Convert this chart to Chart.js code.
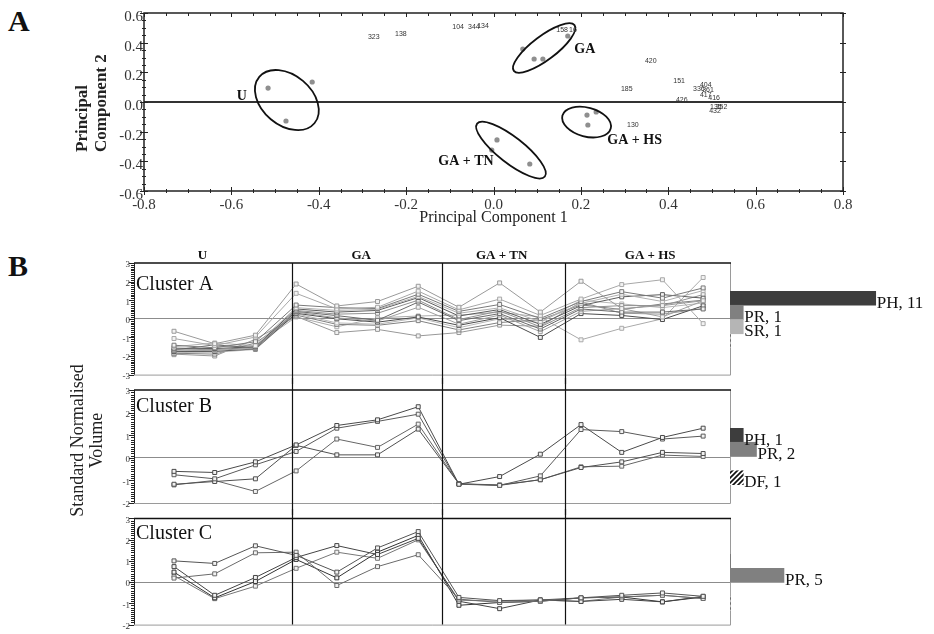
<!DOCTYPE html>
<html>
<head>
<meta charset="utf-8">
<script src="https://cdn.jsdelivr.net/npm/chart.js@4.4.1/dist/chart.umd.min.js"></script>
<style>
  body { margin: 0; background: #fff; }
  #wrap { position: relative; width: 934px; height: 634px; overflow: hidden; }
  #wrap canvas { position: absolute; }
  .tag { position: absolute; font: bold 30px 'Liberation Serif', 'Times New Roman', serif; line-height: 1; color: #111; }
</style>
</head>
<body>
<div id="wrap">
  <div class="tag" style="left:8px;top:6px">A</div>
  <div class="tag" style="left:8px;top:251px">B</div>
  <canvas id="pca" width="934" height="228" style="left:0;top:0"></canvas>
  <canvas id="clA" width="680" height="146" style="left:60px;top:238px"></canvas>
  <canvas id="clB" width="680" height="194" style="left:60px;top:350px"></canvas>
  <canvas id="clC" width="680" height="125" style="left:60px;top:509px"></canvas>
  <canvas id="barsA" width="204" height="75" style="left:730px;top:291px"></canvas>
  <canvas id="barsB" width="204" height="75" style="left:730px;top:428px"></canvas>
  <canvas id="barsC" width="204" height="75" style="left:730px;top:554px"></canvas>
</div>
<script>
// ---- PCA scores (PC1 / PC2) per treatment ----
const uPC1  = [-0.516, -0.415, -0.475];
const uPC2  = [0.094, 0.135, -0.128];
const gaPC1 = [0.067, 0.093, 0.113, 0.170];
const gaPC2 = [0.357, 0.290, 0.290, 0.445];
const tnPC1 = [0.008, -0.004, 0.083];
const tnPC2 = [-0.256, -0.324, -0.418];
const hsPC1 = [0.214, 0.235, 0.216];
const hsPC2 = [-0.088, -0.067, -0.155];

// spot loadings, labelled by spot number
const spotIds = ['323', '138', '104', '344', '134', '158', '16', '420', '185', '151',
                 '404', '336', '361', '417', '426', '416', '135', '352', '432', '130'];
const spotPC1 = [-0.274, -0.212, -0.081, -0.045, -0.024, 0.157, 0.182, 0.360, 0.305, 0.425,
                 0.486, 0.470, 0.491, 0.486, 0.431, 0.505, 0.509, 0.522, 0.507, 0.319];
const spotPC2 = [0.438, 0.459, 0.506, 0.506, 0.512, 0.486, 0.486, 0.276, 0.088, 0.142,
                 0.115, 0.088, 0.081, 0.047, 0.013, 0.027, -0.034, -0.034, -0.061, -0.155];

const groupNames = ['U', 'GA', 'GA + TN', 'GA + HS'];
const groupPC1 = [-0.576, 0.209, -0.063, 0.323];
const groupPC2 = [0.040, 0.357, -0.398, -0.260];

// ---- standard normalised volumes, 14 gels: 3 U, 4 GA, 3 GA+TN, 4 GA+HS ----
const treatments = ['U', 'GA', 'GA + TN', 'GA + HS'];
const treatmentPos = [0.7, 4.6, 8.05, 11.7];
const dividers = [2.9, 6.58, 9.6];

const clusterA = [
  [-0.67, -1.34, -0.88, 1.87, 0.69, 0.93, 1.75, 0.62, 1.93, 0.36, 2.02, 0.55, 0.71, 0.97],
  [-1.06, -1.44, -0.98, 1.37, 0.53, 0.62, 1.49, 0.48, 1.06, 0.18, 1.06, 1.84, 2.10, -0.26],
  [-1.42, -1.56, -1.23, 0.74, 0.60, 0.55, 1.32, 0.40, 0.77, 0.02, 0.93, 1.46, 1.11, 1.66],
  [-1.50, -1.30, -1.44, 0.60, 0.45, 0.51, 1.20, 0.30, 0.59, -0.15, 0.83, 1.32, 0.93, 1.52],
  [-1.58, -1.60, -1.50, 0.53, 0.36, 0.45, 1.14, 0.15, 0.50, -0.30, 0.71, 1.18, 1.30, 1.11],
  [-1.63, -1.65, -1.55, 0.45, 0.25, 0.30, 1.00, -0.04, 0.42, -0.43, 0.60, 0.71, 0.71, 1.30],
  [-1.68, -1.40, -1.57, 0.40, 0.17, -0.08, 0.90, -0.10, 0.28, -0.55, 0.53, 0.36, 0.36, 0.53],
  [-1.72, -1.70, -1.60, 0.36, 0.05, -0.12, 0.62, -0.29, 0.20, -0.69, 0.40, 0.55, 0.10, 0.97],
  [-1.76, -1.75, -1.62, 0.30, 0.00, -0.18, 0.10, -0.35, 0.06, -1.00, 0.28, 0.18, -0.04, 0.70],
  [-1.81, -1.80, -1.65, 0.27, -0.22, -0.29, 0.05, -0.48, 0.00, -0.20, 1.00, 0.80, 0.60, 0.85],
  [-1.85, -1.90, -1.30, 0.20, -0.30, -0.35, -0.10, -0.60, -0.20, -0.05, 0.75, 0.50, 0.80, 1.00],
  [-1.90, -2.00, -1.10, 0.13, -0.74, -0.57, -0.92, -0.74, -0.34, -0.40, 0.90, 0.30, 0.25, 0.55],
  [-1.93, -1.50, -1.44, 0.10, -0.43, 0.05, 0.15, 0.20, 0.35, 0.10, -1.13, -0.51, 0.00, 2.22]
];
const clusterB = [
  [-0.60, -0.65, -0.18, 0.57, 1.43, 1.68, 2.26, -1.17, -0.83, 0.16, 1.47, 0.24, 0.90, 1.31],
  [-0.75, -0.93, -0.31, 0.28, 1.31, 1.61, 1.93, -1.17, -1.22, -0.80, 1.25, 1.16, 0.83, 0.96],
  [-1.17, -1.05, -0.93, 0.55, 0.13, 0.13, 1.27, -1.15, -1.22, -0.97, -0.43, -0.18, 0.24, 0.19],
  [-1.20, -1.00, -1.49, -0.58, 0.83, 0.46, 1.49, -1.15, -1.20, -0.97, -0.40, -0.37, 0.12, 0.06]
];
const clusterC = [
  [1.00, 0.88, 1.71, 1.26, 0.47, 1.61, 2.38, -0.72, -0.87, -0.84, -0.74, -0.62, -0.51, -0.67],
  [0.19, 0.39, 1.38, 1.41, -0.16, 0.73, 1.29, -0.80, -0.96, -0.90, -0.74, -0.70, -0.62, -0.77],
  [0.73, -0.62, 0.22, 1.16, 1.72, 1.30, 2.06, -0.90, -1.25, -0.84, -0.91, -0.81, -0.93, -0.67],
  [0.47, -0.74, 0.03, 1.07, 0.20, 1.41, 2.20, -1.09, -0.96, -0.90, -0.74, -0.70, -0.93, -0.70],
  [0.30, -0.78, -0.19, 0.65, 1.41, 1.12, 1.99, -0.85, -0.90, -0.84, -0.91, -0.70, -0.62, -0.77]
];

// ---- protein counts per cluster ----
const categories = ['PH', 'PR', 'SR', 'DF'];
const countsA = [11, 1, 1, 0];
const countsB = [1, 2, 0, 1];
const countsC = [0, 5, 0, 0];

const SERIF = "'Liberation Serif', 'Times New Roman', serif";
Chart.defaults.font.family = SERIF;
Chart.defaults.color = '#222';
Chart.defaults.animation = false;
Chart.defaults.responsive = false;
Chart.defaults.plugins.legend.display = false;
Chart.defaults.plugins.tooltip.enabled = false;

const pts = (xs, ys) => xs.map((x, i) => ({ x, y: ys[i] }));
const fmt1 = v => (Math.abs(v) < 1e-9 ? 0 : v).toFixed(1);

// frame, minor ticks, rings, labels for the score plot
const pcaDecor = {
  id: 'pcaDecor',
  afterDatasetsDraw(chart, args, o) {
    const { ctx, chartArea: { left, right, top, bottom }, scales: { x, y } } = chart;
    ctx.save();
    ctx.strokeStyle = '#222';
    ctx.lineWidth = 1.5;
    ctx.strokeRect(left, top, right - left, bottom - top);
    ctx.lineWidth = 1;
    ctx.beginPath();
    for (let i = 0; i <= 32; i++) {
      const px = Math.round(x.getPixelForValue(-0.8 + i * 0.05)) + 0.5;
      const major = i % 4 === 0;
      ctx.moveTo(px, bottom - (major ? 4 : 2)); ctx.lineTo(px, bottom + (major ? 4 : 2));
      ctx.moveTo(px, top); ctx.lineTo(px, top + (major ? 4 : 3));
    }
    for (let i = 0; i <= 24; i++) {
      const py = Math.round(y.getPixelForValue(-0.6 + i * 0.05)) + 0.5;
      const major = i % 4 === 0;
      ctx.moveTo(left - (major ? 4 : 2), py); ctx.lineTo(left + (major ? 4 : 2), py);
      if (major) { ctx.moveTo(right - 3, py); ctx.lineTo(right + 3, py); }
    }
    ctx.stroke();

    ctx.lineWidth = 1.8;
    ctx.strokeStyle = '#111';
    o.rings.forEach(r => {
      ctx.beginPath();
      ctx.ellipse(x.getPixelForValue(r.x), y.getPixelForValue(r.y), r.rx, r.ry, r.rot * Math.PI / 180, 0, 2 * Math.PI);
      ctx.stroke();
    });

    ctx.fillStyle = '#111';
    ctx.textAlign = 'center';
    ctx.textBaseline = 'middle';
    ctx.font = 'bold 14px ' + SERIF;
    groupNames.forEach((n, i) => ctx.fillText(n, x.getPixelForValue(groupPC1[i]), y.getPixelForValue(groupPC2[i])));

    ctx.fillStyle = '#333';
    ctx.font = "7px 'Liberation Sans', Arial, sans-serif";
    chart.getDatasetMeta(4).data.forEach((pt, i) => ctx.fillText(spotIds[i], pt.x, pt.y));

    // y title, anchored at its start like the original layout
    ctx.fillStyle = '#222';
    ctx.font = 'bold 17px ' + SERIF;
    ctx.textAlign = 'left';
    ctx.translate(left - 61, bottom - 39);
    ctx.rotate(-Math.PI / 2);
    ctx.fillText('Principal', 0, 0);
    ctx.fillText('Component 2', 0, 18.5);
    ctx.restore();
  }
};

const scoreStyle = { pointRadius: 2.6, backgroundColor: '#8f8f8f', borderWidth: 0 };

new Chart(document.getElementById('pca'), {
  type: 'scatter',
  data: {
    datasets: [
      { label: 'U', data: pts(uPC1, uPC2), ...scoreStyle },
      { label: 'GA', data: pts(gaPC1, gaPC2), ...scoreStyle },
      { label: 'GA + TN', data: pts(tnPC1, tnPC2), ...scoreStyle },
      { label: 'GA + HS', data: pts(hsPC1, hsPC2), ...scoreStyle },
      { label: 'spots', data: pts(spotPC1, spotPC2), pointRadius: 0 }
    ]
  },
  options: {
    layout: { padding: { left: 100, right: 91, top: 13, bottom: 1 } },
    plugins: {
      pcaDecor: {
        rings: [
          { x: -0.473, y: 0.013, rx: 36, ry: 25, rot: 40 },
          { x: 0.116, y: 0.364, rx: 38, ry: 12, rot: -37 },
          { x: 0.040, y: -0.324, rx: 43, ry: 13, rot: 38 },
          { x: 0.213, y: -0.135, rx: 25, ry: 14.5, rot: 15 }
        ]
      }
    },
    scales: {
      x: {
        type: 'linear', min: -0.8, max: 0.8,
        afterFit: s => { s.height = 36; },
        ticks: { stepSize: 0.2, callback: fmt1, font: { size: 15 }, color: '#333', padding: 5, maxRotation: 0 },
        grid: { display: false, drawTicks: false },
        border: { display: false },
        title: { display: true, text: 'Principal Component 1', font: { size: 16 }, color: '#222', padding: { top: 0, bottom: 0 } }
      },
      y: {
        min: -0.6, max: 0.6,
        afterFit: s => { s.width = 44; },
        ticks: { stepSize: 0.2, callback: fmt1, font: { size: 15 }, color: '#333', padding: 1, labelOffset: 4 },
        grid: { color: c => (Math.abs(c.tick.value) < 1e-9 ? '#333' : 'rgba(0,0,0,0)'), lineWidth: 2, drawTicks: false },
        border: { display: false }
      }
    }
  },
  plugins: [pcaDecor]
});

// frame, fine y ticks, treatment dividers and cluster name for a profile panel
const panelDecor = {
  id: 'panelDecor',
  afterDraw(chart, args, o) {
    const { ctx, chartArea: { left, right, top, bottom }, scales: { x, y } } = chart;
    ctx.save();
    ctx.lineWidth = 1;
    ctx.strokeStyle = '#9a9a9a';
    ctx.beginPath();
    ctx.moveTo(right + 0.5, top); ctx.lineTo(right + 0.5, bottom + 0.5); ctx.lineTo(left, bottom + 0.5);
    ctx.stroke();
    ctx.strokeStyle = '#111';
    ctx.lineWidth = 1.5;
    ctx.beginPath();
    ctx.moveTo(left, top); ctx.lineTo(right + 1, top);
    ctx.stroke();

    ctx.lineWidth = 1;
    ctx.strokeStyle = '#222';
    ctx.beginPath();
    ctx.moveTo(left + 0.5, top); ctx.lineTo(left + 0.5, bottom);
    const steps = Math.round((y.max - y.min) * 10);
    for (let i = 0; i <= steps; i++) {
      const py = Math.round(y.getPixelForValue(y.min + i / 10)) + 0.5;
      const major = i % 10 === 0;
      ctx.moveTo(left - (major ? 5 : 3), py); ctx.lineTo(left, py);
    }
    ctx.stroke();

    // treatment dividers run on through the gaps between panels
    ctx.strokeStyle = '#111';
    ctx.lineWidth = 1.2;
    ctx.beginPath();
    dividers.forEach(d => {
      const px = Math.round(x.getPixelForValue(d)) + 0.5;
      ctx.moveTo(px, top - o.extUp); ctx.lineTo(px, bottom + o.extDown);
    });
    ctx.stroke();

    ctx.fillStyle = '#111';
    ctx.font = '20px ' + SERIF;
    ctx.textBaseline = 'middle';
    ctx.fillText(o.name, left + 2, top + o.nameDy);

    if (o.sideTitle) {
      ctx.fillStyle = '#222';
      ctx.font = '18px ' + SERIF;
      ctx.textAlign = 'center';
      ctx.translate(left - 56, (top + bottom) / 2 - 6);
      ctx.rotate(-Math.PI / 2);
      o.sideTitle.forEach((line, i) => ctx.fillText(line, 0, i * 19.5));
    }
    ctx.restore();
  }
};

function clusterPanel(id, name, series, colours, yMin, opt) {
  return new Chart(document.getElementById(id), {
    type: 'line',
    data: {
      datasets: series.map((vals, k) => ({
        data: vals.map((v, i) => ({ x: i, y: v })),
        borderColor: colours[k % colours.length],
        borderWidth: 1,
        tension: 0,
        pointStyle: 'rect',
        pointRadius: 2.8,
        pointBorderWidth: 1,
        pointBackgroundColor: '#f2f2f2',
        pointBorderColor: colours[k % colours.length]
      }))
    },
    options: {
      layout: { padding: { left: 0, right: 10, top: opt.padTop, bottom: opt.padBottom } },
      plugins: {
        panelDecor: { name, nameDy: opt.nameDy, extUp: opt.extUp, extDown: opt.extDown, sideTitle: opt.sideTitle }
      },
      scales: {
        x: {
          type: 'linear', position: 'top', display: opt.header,
          min: -0.983, max: 13.66,
          afterFit: s => { s.height = opt.header ? 25 : 0; },
          afterBuildTicks: s => { s.ticks = treatmentPos.map(v => ({ value: v })); },
          ticks: { callback: (v, i) => treatments[i], font: { size: 13, weight: 'bold' }, color: '#111', padding: 0, autoSkip: false, maxRotation: 0, minRotation: 0 },
          grid: { display: false, drawTicks: false },
          border: { display: false }
        },
        y: {
          min: yMin, max: 3,
          afterFit: s => { s.width = 74; },
          ticks: { stepSize: 1, font: { size: 9 }, color: '#333', padding: 4, labelOffset: 2 },
          grid: { color: c => (c.tick.value === 0 ? '#8c8c8c' : 'rgba(0,0,0,0)'), drawTicks: false },
          border: { display: false }
        }
      }
    },
    plugins: [panelDecor]
  });
}

clusterPanel('clA', 'Cluster A', clusterA,
  ['#9a9a9a', '#a8a8a8', '#7a7a7a', '#b0b0b0', '#5c5c5c', '#909090', '#6a6a6a', '#a0a0a0', '#4c4c4c', '#b8b8b8', '#808080', '#989898', '#aaaaaa'],
  -3, { header: true, padTop: 0, padBottom: 6, nameDy: 22, extUp: 0, extDown: 12 });

clusterPanel('clB', 'Cluster B', clusterB, ['#4a4a4a', '#5a5a5a', '#505050', '#666666'],
  -2, { header: false, padTop: 40, padBottom: 41, nameDy: 17, extUp: 12, extDown: 12,
        sideTitle: ['Standard Normalised', 'Volume'] });

clusterPanel('clC', 'Cluster C', clusterC, ['#555555', '#6a6a6a', '#444444', '#333333', '#777777'],
  -2, { header: false, padTop: 6, padBottom: 4, nameDy: 15, extUp: 12, extDown: 0 });

// "PH, 11" style labels at the end of each bar
const barLabels = {
  id: 'barLabels',
  afterDatasetsDraw(chart) {
    const { ctx } = chart;
    const values = chart.data.datasets[0].data;
    ctx.save();
    ctx.font = '17px ' + SERIF;
    ctx.fillStyle = '#111';
    ctx.textBaseline = 'middle';
    chart.getDatasetMeta(0).data.forEach((bar, i) => {
      if (!values[i]) return;
      ctx.fillText(chart.data.labels[i] + ', ' + values[i], bar.x + 1, bar.y + 5);
    });
    ctx.restore();
  }
};

function hatch(canvasId) {
  const tile = document.createElement('canvas');
  tile.width = 5; tile.height = 5;
  const g = tile.getContext('2d');
  g.fillStyle = '#fff';
  g.fillRect(0, 0, 5, 5);
  g.strokeStyle = '#111';
  g.lineWidth = 1.7;
  g.beginPath();
  g.moveTo(0, 5); g.lineTo(5, 0);
  g.moveTo(-1, 1); g.lineTo(1, -1);
  g.moveTo(4, 6); g.lineTo(6, 4);
  g.stroke();
  return document.getElementById(canvasId).getContext('2d').createPattern(tile, 'repeat');
}

function countBars(id, counts, max) {
  return new Chart(document.getElementById(id), {
    type: 'bar',
    data: {
      labels: categories,
      datasets: [{
        data: counts,
        backgroundColor: ['#3d3d3d', '#808080', '#b5b5b5', hatch(id)],
        borderWidth: 0,
        categoryPercentage: 1,
        barPercentage: 1
      }]
    },
    options: {
      indexAxis: 'y',
      layout: { padding: { left: 0, right: 0, top: 0, bottom: 18 } },
      scales: {
        x: { display: false, min: 0, max },
        y: { display: false }
      }
    },
    plugins: [barLabels]
  });
}

countBars('barsA', countsA, 15.4);
countBars('barsB', countsB, 15.4);
countBars('barsC', countsC, 18.9);
</script>
</body>
</html>
